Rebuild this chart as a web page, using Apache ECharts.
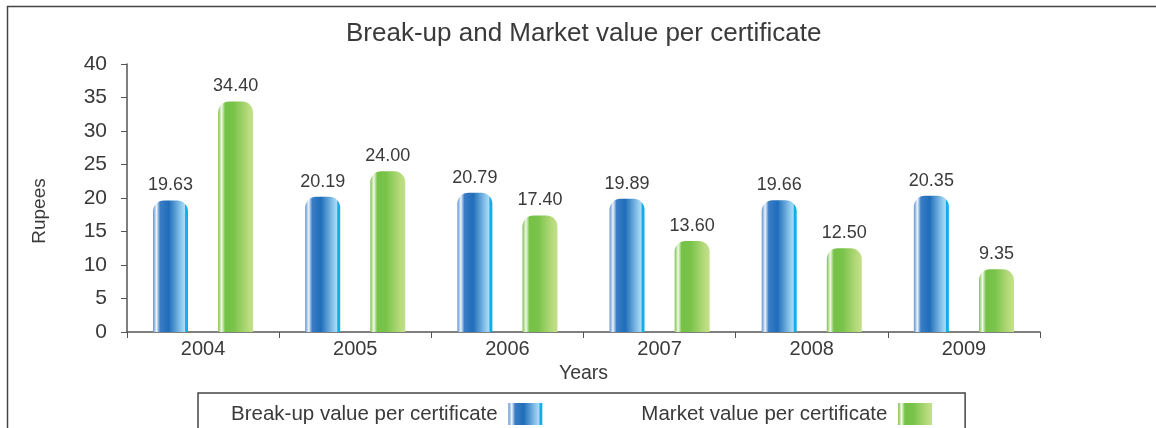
<!DOCTYPE html>
<html>
<head>
<meta charset="utf-8">
<script src="https://cdn.jsdelivr.net/npm/echarts@6/dist/echarts.min.js"></script>
<style>
  html, body { margin: 0; padding: 0; background: #fff; }
  #main { width: 1156px; height: 428px; }
</style>
</head>
<body>
<div id="main"></div>
<script>
// 数据
var years = ['2004', '2005', '2006', '2007', '2008', '2009'];
var breakUp = [19.63, 20.19, 20.79, 19.89, 19.66, 20.35];
var market = [34.40, 24.00, 17.40, 13.60, 12.50, 9.35];
var yTicks = [0, 40, 5]; // min, max, interval

var FONT = '"Liberation Sans", Arial, sans-serif';
var TXT = '#3a3a3a';

// 圆柱效果的渐变
var blueFill = new echarts.graphic.LinearGradient(0, 0, 1, 0, [
  { offset: 0, color: '#5b91d0' },
  { offset: 0.1, color: '#eef4fb' },
  { offset: 0.2, color: '#3a7dc6' },
  { offset: 0.45, color: '#1f6db9' },
  { offset: 0.8, color: '#8cc6ec' },
  { offset: 0.9, color: '#a9dbf5' },
  { offset: 0.93, color: '#12aeea' },
  { offset: 1, color: '#12aeea' }
]);
var greenFill = new echarts.graphic.LinearGradient(0, 0, 1, 0, [
  { offset: 0, color: '#7cc04c' },
  { offset: 0.1, color: '#f3f9e8' },
  { offset: 0.2, color: '#74c246' },
  { offset: 0.45, color: '#79c34a' },
  { offset: 0.85, color: '#b6da7c' },
  { offset: 1, color: '#c4e08a' }
]);

var myChart = echarts.init(document.getElementById('main'));

myChart.setOption({
  animation: false,
  textStyle: { fontFamily: FONT },
  title: {
    text: 'Break-up and Market value per certificate',
    left: 341,
    top: 16,
    textStyle: { fontSize: 26, fontWeight: 'normal', color: TXT, fontFamily: FONT }
  },
  graphic: [{
    type: 'rect',
    shape: { x: 7.5, y: 6.5, width: 1300, height: 600 },
    style: { fill: 'none', stroke: '#444', lineWidth: 1.5 },
    silent: true
  }],
  legend: {
    bottom: -27,
    left: 198,
    align: 'right',
    itemWidth: 34,
    itemHeight: 22,
    itemGap: 99,
    padding: [10, 33, 30, 33],
    borderColor: '#444',
    borderWidth: 1.5,
    icon: 'rect',
    formatter: function (name) { return name + '\u00a0'; },
    textStyle: { fontSize: 20.5, color: TXT },
    data: ['Break-up value per certificate', 'Market value per certificate']
  },
  grid: { left: 127, right: 116, top: 64, bottom: 96 },
  xAxis: {
    type: 'category',
    data: years,
    name: 'Years',
    nameLocation: 'middle',
    nameGap: 29,
    nameTextStyle: { fontSize: 19.5, color: TXT },
    axisLine: { lineStyle: { color: '#555', width: 1.5 } },
    axisTick: { show: true, length: 6, lineStyle: { color: '#555' } },
    axisLabel: { fontSize: 20, color: TXT, margin: 7 }
  },
  yAxis: {
    type: 'value',
    min: yTicks[0],
    max: yTicks[1],
    interval: yTicks[2],
    name: 'Rupees',
    nameLocation: 'middle',
    nameGap: 78,
    nameTextStyle: { fontSize: 19, color: TXT, padding: [0, 26, 0, 0] },
    splitLine: { show: false },
    axisLine: { show: true, lineStyle: { color: '#555', width: 1.5 } },
    axisTick: { show: true, length: 6, lineStyle: { color: '#555' } },
    axisLabel: { fontSize: 21, color: TXT, margin: 20 }
  },
  series: [{
    name: 'Break-up value per certificate',
    type: 'bar',
    data: breakUp,
    barWidth: 35,
    barGap: '86%',
    itemStyle: { color: blueFill, borderRadius: [11, 11, 0, 0] },
    label: {
      show: true, position: 'top', distance: 6,
      fontSize: 18, color: TXT,
      formatter: function (p) { return p.value.toFixed(2); }
    }
  }, {
    name: 'Market value per certificate',
    type: 'bar',
    data: market,
    barWidth: 35,
    itemStyle: { color: greenFill, borderRadius: [11, 11, 0, 0] },
    label: {
      show: true, position: 'top', distance: 6,
      fontSize: 18, color: TXT,
      formatter: function (p) { return p.value.toFixed(2); }
    }
  }]
});
</script>
</body>
</html>
